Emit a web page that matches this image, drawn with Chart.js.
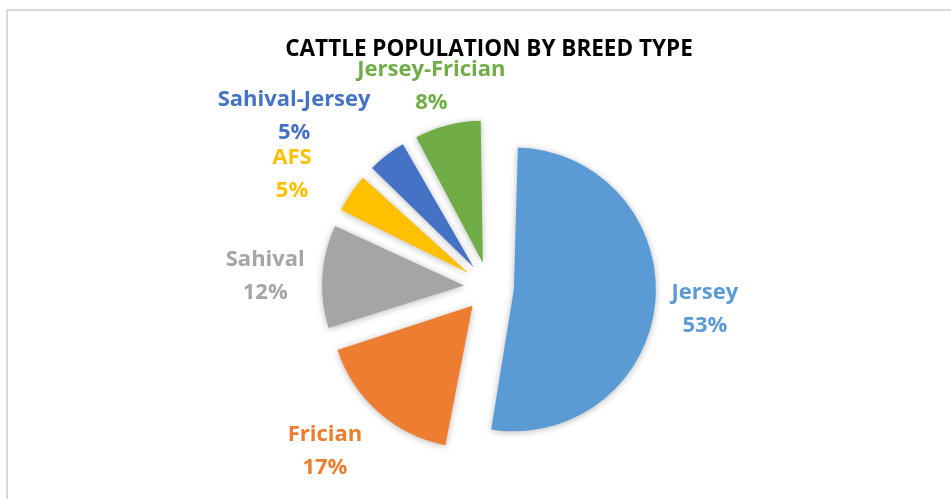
<!DOCTYPE html>
<html>
<head>
<meta charset="utf-8">
<script src="https://cdn.jsdelivr.net/npm/chart.js@4.4.1/dist/chart.umd.min.js"></script>
<style>
  html, body { margin: 0; padding: 0; background: #fff; overflow: hidden; }
  #wrap { position: relative; width: 951px; height: 499px; }
  #frame { position: absolute; left: 6px; top: 9px; width: 960px; height: 500px;
           border: 2px solid #d9d9d9; pointer-events: none; }
</style>
</head>
<body>
<div id="wrap">
  <canvas id="breedChart" width="951" height="499"></canvas>
  <div id="frame"></div>
</div>
<script>
// breeds and their share of the cattle population (%)
var breeds = ['Jersey', 'Frician', 'Sahival', 'AFS', 'Sahival-Jersey', 'Jersey-Frician'];
var shares = [53, 17, 12, 5, 5, 8];
var breedColors = ['#5B9BD5', '#ED7D31', '#A5A5A5', '#FFC000', '#4472C4', '#70AD47'];

var pieRadius = 142;
var explode = 25;   // px each slice is pulled out
// where each outside label sits: distance past the rim, and a small turn (degrees)
var labelGap = [75, 90, 82, 85, 117, 67];
var labelTurn = [0.4, 3.6, -0.8, -4.4, -11, -1.6];

// chart.js grows the radius of an offset arc (offset * (1 - sin(circ))), undo that
// so every exploded slice keeps the same radius like the excel original
var evenRadius = {
  id: 'evenRadius',
  afterDatasetUpdate: function(chart, args) {
    args.meta.data.forEach(function(arc) {
      var circ = arc.endAngle - arc.startAngle;
      var fix = 1 - Math.sin(Math.min(Math.PI, circ));
      arc.outerRadius = pieRadius - explode * fix;
    });
  }
};

var sliceShadow = {
  id: 'sliceShadow',
  beforeDatasetDraw: function(chart) {
    var ctx = chart.ctx;
    ctx.save();
    ctx.shadowColor = 'rgba(0,0,0,0.28)';
    ctx.shadowBlur = 7;
    ctx.shadowOffsetX = 0;
    ctx.shadowOffsetY = 1;
  },
  afterDatasetDraw: function(chart) {
    chart.ctx.restore();
  }
};

var outsideLabels = {
  id: 'outsideLabels',
  afterDatasetsDraw: function(chart) {
    var ctx = chart.ctx;
    var arcs = chart.getDatasetMeta(0).data;
    var total = shares.reduce(function(a, b) { return a + b; }, 0);
    ctx.save();
    ctx.font = 'bold 22px "Open Sans", "DejaVu Sans", sans-serif';
    ctx.textAlign = 'center';
    ctx.textBaseline = 'middle';
    arcs.forEach(function(arc, i) {
      var p = arc.getProps(['x', 'y', 'startAngle', 'endAngle'], true);
      var a = (p.startAngle + p.endAngle) / 2 + labelTurn[i] * Math.PI / 180;
      var d = pieRadius + labelGap[i];
      var cx = p.x + d * Math.cos(a);
      var cy = p.y + d * Math.sin(a);
      ctx.fillStyle = breedColors[i];
      ctx.fillText(breeds[i], cx, cy - 16.5);
      ctx.fillText(Math.round(shares[i] / total * 100) + '%', cx, cy + 16.5);
    });
    ctx.restore();
  }
};

var ctxP = document.getElementById('breedChart').getContext('2d');
var breedPie = new Chart(ctxP, {
  type: 'pie',
  data: {
    labels: breeds,
    datasets: [{
      data: shares,
      backgroundColor: breedColors,
      borderWidth: 0,
      offset: explode * 4   // arc element divides offset by 4
    }]
  },
  options: {
    responsive: false,
    animation: false,
    devicePixelRatio: 1,
    radius: pieRadius,
    layout: { padding: { left: 27, right: 0, top: 0, bottom: 0 } },
    plugins: {
      legend: { display: false },
      tooltip: { enabled: false },
      title: {
        display: true,
        text: 'CATTLE POPULATION BY BREED TYPE',
        color: '#000',
        font: { family: '"Open Sans", "DejaVu Sans", sans-serif', size: 22.5, weight: 'bold', lineHeight: 1.2 },
        padding: { top: 36, bottom: 12 }
      }
    }
  },
  plugins: [evenRadius, sliceShadow, outsideLabels]
});
</script>
</body>
</html>
